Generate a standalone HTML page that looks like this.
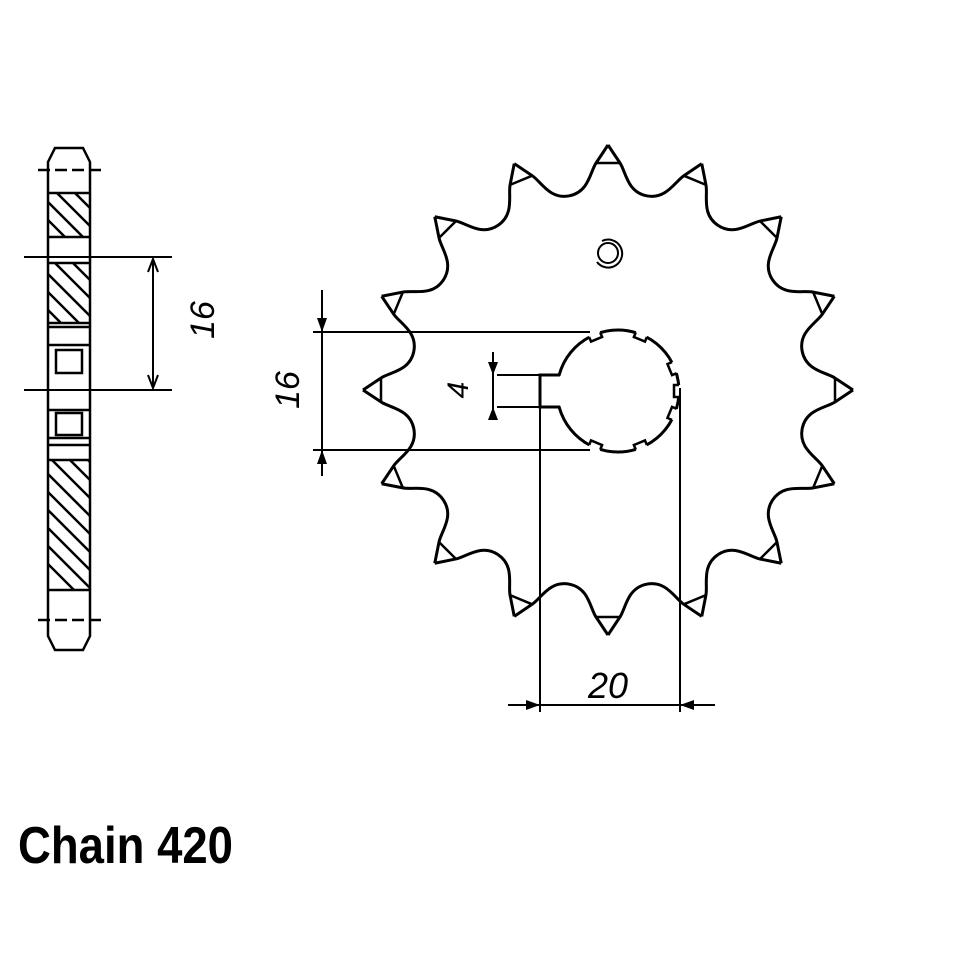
<!DOCTYPE html>
<html><head><meta charset="utf-8"><style>html,body{margin:0;padding:0;background:#fff}svg{display:block}</style></head>
<body>
<svg width="960" height="960" viewBox="0 0 960 960" xmlns="http://www.w3.org/2000/svg">
<rect width="960" height="960" fill="#fff"/>
<defs>
<g id="seg">
<path d="M608,145 L620,163 C626,172 627,191.9 646.6,195.8 C666.2,199.7 674.9,181.7 683.85,175.7 L701.76,163.65" fill="none" stroke="#000" stroke-width="3" stroke-linejoin="round"/>
<line x1="597" y1="163" x2="619" y2="163" stroke="#000" stroke-width="2.5"/>
</g>
<g id="notch">
<rect x="672" y="385" width="10" height="12" fill="#fff"/>
<path d="M679,385 L674,385 L674,397 L679,397" fill="none" stroke="#000" stroke-width="2.5"/>
</g>
<clipPath id="hc">
<rect x="49" y="194" width="40" height="42"/>
<rect x="49" y="264" width="40" height="58"/>
<rect x="49" y="461" width="40" height="128"/>
</clipPath>
</defs>
<g>
<use href="#seg"/>
<use href="#seg" transform="rotate(22.5 608 390)"/>
<use href="#seg" transform="rotate(45 608 390)"/>
<use href="#seg" transform="rotate(67.5 608 390)"/>
<use href="#seg" transform="rotate(90 608 390)"/>
<use href="#seg" transform="rotate(112.5 608 390)"/>
<use href="#seg" transform="rotate(135 608 390)"/>
<use href="#seg" transform="rotate(157.5 608 390)"/>
<use href="#seg" transform="rotate(180 608 390)"/>
<use href="#seg" transform="rotate(202.5 608 390)"/>
<use href="#seg" transform="rotate(225 608 390)"/>
<use href="#seg" transform="rotate(247.5 608 390)"/>
<use href="#seg" transform="rotate(270 608 390)"/>
<use href="#seg" transform="rotate(292.5 608 390)"/>
<use href="#seg" transform="rotate(315 608 390)"/>
<use href="#seg" transform="rotate(337.5 608 390)"/>
</g>
<circle cx="618" cy="391" r="61" fill="#fff" stroke="#000" stroke-width="3"/>
<use href="#notch" transform="rotate(-67.5 618 391)"/>
<use href="#notch" transform="rotate(-22.5 618 391)"/>
<use href="#notch" transform="rotate(22.5 618 391)"/>
<use href="#notch" transform="rotate(67.5 618 391)"/>
<use href="#notch" transform="rotate(112.5 618 391)"/>
<use href="#notch" transform="rotate(247.5 618 391)"/>
<use href="#notch" transform="rotate(0 618 391)"/>
<rect x="541" y="376" width="20" height="30" fill="#fff"/>
<path d="M560,375 L540,375 L540,407 L560,407" fill="none" stroke="#000" stroke-width="3"/>
<g fill="none" stroke="#000" stroke-width="2.5">
<path d="M48,162 L55,148 L83,148 L90,162 L90,636 L83,650 L55,650 L48,636 Z" fill="#fff"/>
<line x1="38" y1="170" x2="103" y2="170" stroke-dasharray="12,5"/>
<line x1="38" y1="620" x2="103" y2="620" stroke-dasharray="12,5"/>
<line x1="48" y1="193" x2="90" y2="193"/><line x1="48" y1="237" x2="90" y2="237"/>
<line x1="48" y1="263" x2="90" y2="263"/><line x1="48" y1="323" x2="90" y2="323"/>
<line x1="48" y1="327" x2="90" y2="327"/><line x1="48" y1="345" x2="90" y2="345"/>
<rect x="56" y="350" width="26" height="23"/>
<line x1="48" y1="410" x2="90" y2="410"/>
<rect x="56" y="413" width="26" height="22"/>
<line x1="48" y1="438" x2="90" y2="438"/><line x1="48" y1="445" x2="90" y2="445"/>
<line x1="48" y1="460" x2="90" y2="460"/><line x1="48" y1="590" x2="90" y2="590"/>
</g>
<g stroke="#000" stroke-width="2.5" clip-path="url(#hc)">
<line x1="40" y1="140" x2="100" y2="200"/><line x1="40" y1="158" x2="100" y2="218"/>
<line x1="40" y1="176" x2="100" y2="236"/><line x1="40" y1="194" x2="100" y2="254"/>
<line x1="40" y1="212" x2="100" y2="272"/><line x1="40" y1="230" x2="100" y2="290"/>
<line x1="40" y1="248" x2="100" y2="308"/><line x1="40" y1="266" x2="100" y2="326"/>
<line x1="40" y1="284" x2="100" y2="344"/><line x1="40" y1="302" x2="100" y2="362"/>
<line x1="40" y1="412" x2="100" y2="472"/><line x1="40" y1="430" x2="100" y2="490"/>
<line x1="40" y1="448" x2="100" y2="508"/><line x1="40" y1="466" x2="100" y2="526"/>
<line x1="40" y1="484" x2="100" y2="544"/><line x1="40" y1="502" x2="100" y2="562"/>
<line x1="40" y1="520" x2="100" y2="580"/><line x1="40" y1="538" x2="100" y2="598"/>
<line x1="40" y1="556" x2="100" y2="616"/>
</g>
<g stroke="#000" stroke-width="2" fill="none">
<line x1="24" y1="257" x2="172" y2="257"/><line x1="24" y1="390" x2="172" y2="390"/>
<line x1="153" y1="259" x2="153" y2="388"/>
<path d="M148,272 L153,259 L158,272 M148,375 L153,388 L158,375"/>
</g>
<text transform="translate(214,320) rotate(-90)" font-family="Liberation Sans, sans-serif" font-size="34" font-style="italic" text-anchor="middle">16</text>
<g stroke="#000" stroke-width="2" fill="none">
<line x1="313" y1="332" x2="590" y2="332"/>
<line x1="313" y1="450" x2="590" y2="450"/>
<line x1="322" y1="290" x2="322" y2="476"/>
<line x1="497" y1="375" x2="545" y2="375"/>
<line x1="497" y1="407" x2="545" y2="407"/>
<line x1="493" y1="352" x2="493" y2="420"/>
<line x1="540" y1="375" x2="540" y2="712"/>
<line x1="680" y1="388" x2="680" y2="712"/>
<line x1="508" y1="705" x2="715" y2="705"/>
</g>
<g fill="#000">
<path d="M317,318 L322,332 L327,318Z M317,464 L322,450 L327,464Z"/>
<path d="M488,362 L493,375 L498,362Z M488,420 L493,407 L498,420Z"/>
<path d="M526,700 L540,705 L526,710Z M694,700 L680,705 L694,710Z"/>
</g>
<text transform="translate(299,390) rotate(-90)" font-family="Liberation Sans, sans-serif" font-size="34" font-style="italic" text-anchor="middle">16</text>
<text transform="translate(468,390) rotate(-90)" font-family="Liberation Sans, sans-serif" font-size="30" font-style="italic" text-anchor="middle">4</text>
<text x="608" y="698" font-family="Liberation Sans, sans-serif" font-size="36" font-style="italic" text-anchor="middle">20</text>
<circle cx="608" cy="253" r="10" fill="none" stroke="#000" stroke-width="2"/>
<path d="M602,241 A14,14 0 1 1 597,262" fill="none" stroke="#000" stroke-width="2"/>
<text x="18" y="863" font-family="Liberation Sans, sans-serif" font-weight="bold" font-size="52" textLength="215" lengthAdjust="spacingAndGlyphs">Chain 420</text>
</svg>
</body></html>
